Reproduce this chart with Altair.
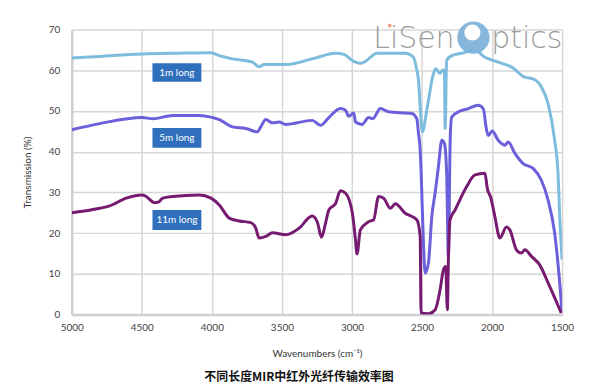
import altair as alt
import pandas as pd

# ---- data ----
wn_1m = [5000, 4801, 4497, 4232, 4006, 3947, 3855, 3711, 3663, 3627, 3473, 3284, 3117, 3058,
         2987, 2940, 2904, 2822, 2620, 2561, 2537, 2525, 2513, 2497, 2466, 2418, 2402, 2371,
         2352, 2340, 2335, 2324, 2288, 2217, 2122, 2051, 1956, 1861, 1766, 1707, 1648, 1600,
         1553, 1529, 1517, 1500]
t_1m = [63.0, 63.4, 64.0, 64.2, 64.3, 63.6, 62.8, 62.0, 60.9, 61.4, 61.4, 62.8, 64.2, 63.9,
        62.2, 61.7, 62.2, 64.2, 64.2, 63.2, 60.0, 57.5, 51.0, 44.9, 50.2, 59.2, 60.4, 59.2,
        60.1, 60.0, 45.7, 62.4, 63.6, 64.2, 64.9, 63.2, 62.0, 60.8, 58.3, 57.9, 55.9, 51.8,
        42.8, 34.7, 24.1, 13.5]

wn_5m = [5000, 4801, 4497, 4422, 4280, 4090, 4006, 3947, 3853, 3758, 3675, 3651, 3615, 3568,
         3521, 3473, 3284, 3224, 3165, 3082, 3046, 3023, 2987, 2975, 2928, 2881, 2852, 2797,
         2738, 2573, 2537, 2525, 2513, 2506, 2489, 2477, 2454, 2430, 2406, 2383, 2359, 2340,
         2324, 2312, 2298, 2288, 2240, 2169, 2098, 2063, 2039, 2027, 1999, 1956, 1908, 1885,
         1837, 1778, 1707, 1648, 1600, 1553, 1517, 1500]
t_5m = [45.4, 46.9, 48.4, 48.1, 48.9, 48.9, 48.5, 47.9, 46.1, 45.7, 44.9, 46.1, 47.9, 47.1,
        47.3, 46.7, 47.7, 46.5, 48.4, 50.6, 50.2, 48.7, 49.5, 47.3, 46.7, 48.4, 48.1, 50.6,
        49.8, 49.4, 48.1, 44.5, 40.4, 34.7, 16.7, 10.2, 12.7, 24.1, 30.0, 36.3, 42.8, 42.0,
        34.7, 14.3, 44.0, 48.5, 49.8, 50.6, 51.4, 50.6, 45.3, 44.0, 45.1, 42.8, 41.6, 42.4,
        39.6, 37.1, 35.9, 33.0, 28.1, 20.0, 7.8, 0.4]

wn_11m = [5000, 4801, 4730, 4611, 4497, 4469, 4410, 4379, 4351, 4280, 4090, 4006, 3947, 3876,
          3805, 3722, 3686, 3663, 3615, 3568, 3473, 3378, 3284, 3248, 3217, 3189, 3165, 3117,
          3082, 3046, 2999, 2975, 2964, 2940, 2881, 2845, 2810, 2774, 2726, 2691, 2620, 2537,
          2513, 2507, 2454, 2406, 2371, 2347, 2331, 2319, 2312, 2300, 2264, 2182, 2122, 2051,
          2034, 2008, 1980, 1944, 1897, 1873, 1826, 1790, 1766, 1719, 1660, 1600, 1506]
t_11m = [25.0, 26.1, 26.7, 28.6, 29.4, 29.0, 27.5, 27.7, 28.6, 29.0, 29.4, 28.6, 26.9, 23.7,
         23.0, 22.6, 21.2, 18.8, 19.2, 20.1, 19.6, 21.2, 24.2, 22.8, 19.0, 22.4, 25.7, 27.3,
         30.4, 29.8, 25.3, 18.4, 14.9, 20.8, 22.8, 23.3, 29.0, 28.6, 26.1, 27.2, 24.9, 23.3,
         19.2, 0.4, 0.2, 1.2, 6.1, 11.0, 11.8, 1.2, 13.0, 23.3, 25.7, 31.4, 34.3, 34.7,
         31.0, 28.6, 24.1, 18.8, 21.5, 20.8, 15.9, 15.1, 15.9, 14.3, 12.2, 7.8, 0.4]

series_names = ["1m long", "5m long", "11m long"]
series_colors = ["#7dbcdd", "#6b5fdb", "#761b71"]

# label boxes (wavenumber span, transmission span)
label_x1 = [4424, 4424, 4424]
label_x2 = [4075, 4075, 4075]
label_y1 = [61.7, 45.8, 25.7]
label_y2 = [57.2, 41.0, 20.8]

x_ticks = [5000, 4500, 4000, 3500, 3000, 2500, 2000, 1500]
y_ticks = [0, 10, 20, 30, 40, 50, 60, 70]

rows = []
for name, wns, ts in zip(series_names, [wn_1m, wn_5m, wn_11m], [t_1m, t_5m, t_11m]):
    for i, (w, t) in enumerate(zip(wns, ts)):
        rows.append({"series": name, "wn": w, "t": t, "idx": i})
df = pd.DataFrame(rows)

labels = pd.DataFrame({
    "series": series_names,
    "x1": label_x1, "x2": label_x2, "y1": label_y1, "y2": label_y2,
})
labels["xm"] = (labels["x1"] + labels["x2"]) / 2
labels["ym"] = (labels["y1"] + labels["y2"]) / 2

xscale = alt.Scale(domain=[1500, 5000], reverse=True, nice=False)
yscale = alt.Scale(domain=[0, 70], nice=False)

lines = alt.Chart(df).mark_line(strokeWidth=3, interpolate="monotone", clip=True).encode(
    x=alt.X("wn:Q", scale=xscale,
            axis=alt.Axis(values=x_ticks, format="d", title="Wavenumbers (cm⁻¹)",
                          titlePadding=16, labelFlush=False)),
    y=alt.Y("t:Q", scale=yscale,
            axis=alt.Axis(values=y_ticks, format="d", title="Transmission (%)",
                          titlePadding=16, labelFlush=False)),
    color=alt.Color("series:N", scale=alt.Scale(domain=series_names, range=series_colors),
                    legend=None),
    order=alt.Order("idx:Q"),
)

boxes = alt.Chart(labels).mark_rect(color="#2f6fbb").encode(
    x="x1:Q", x2="x2:Q", y="y1:Q", y2="y2:Q"
)
box_text = alt.Chart(labels).mark_text(
    color="white", fontSize=10, font="Lato", align="center", baseline="middle"
).encode(x="xm:Q", y="ym:Q", text="series:N")

# logo watermark
logo_df = pd.DataFrame({"a": [0]})
logo_left = alt.Chart(logo_df).mark_text(
    text="LiSen", fontSize=30, font="DejaVu Sans", fontWeight=200, color="#9c9c9c",
    align="right", baseline="alphabetic"
).encode(x=alt.value(384), y=alt.value(18))
logo_right = alt.Chart(logo_df).mark_text(
    text="ptics", fontSize=30, font="DejaVu Sans", fontWeight=200, color="#9c9c9c",
    align="left", baseline="alphabetic"
).encode(x=alt.value(421), y=alt.value(18))
logo_ring = alt.Chart(logo_df).mark_point(
    filled=True, shape="circle", size=1050, color="#7fb2da", opacity=0.95
).encode(x=alt.value(403), y=alt.value(8))
logo_hole = alt.Chart(logo_df).mark_point(
    filled=True, shape="circle", size=260, color="white", opacity=1
).encode(x=alt.value(402), y=alt.value(3))
logo_dot = alt.Chart(logo_df).mark_point(
    filled=True, shape="circle", size=14, color="#f0a07a", opacity=1
).encode(x=alt.value(319), y=alt.value(-4))

chart = alt.layer(lines, boxes, box_text, logo_ring, logo_hole, logo_left, logo_right, logo_dot).properties(
    width=492,
    height=286,
    autosize=alt.AutoSizeParams(type="none"),
    padding={"left": 64, "top": 21, "right": 30, "bottom": 70},
    title=alt.TitleParams(
        "不同长度MIR中红外光纤传输效率图", orient="bottom", anchor="middle",
        font="Noto Sans CJK SC", fontSize=12, fontWeight="bold", color="#111111",
        offset=14, dx=-18,
    ),
).configure_view(stroke=None).configure_axis(
    gridColor="#d6d6d6", gridWidth=1.5, domainColor="#cfcfcf", domainWidth=2.5,
    ticks=False, labelColor="#444444", labelFont="Lato", labelFontSize=10,
    titleColor="#333333", titleFont="Lato", titleFontSize=10, titleFontWeight="normal",
    labelPadding=8,
).configure_axisY(labelPadding=12)

chart.save("out.html", embed_options={"renderer": "svg", "actions": False})
